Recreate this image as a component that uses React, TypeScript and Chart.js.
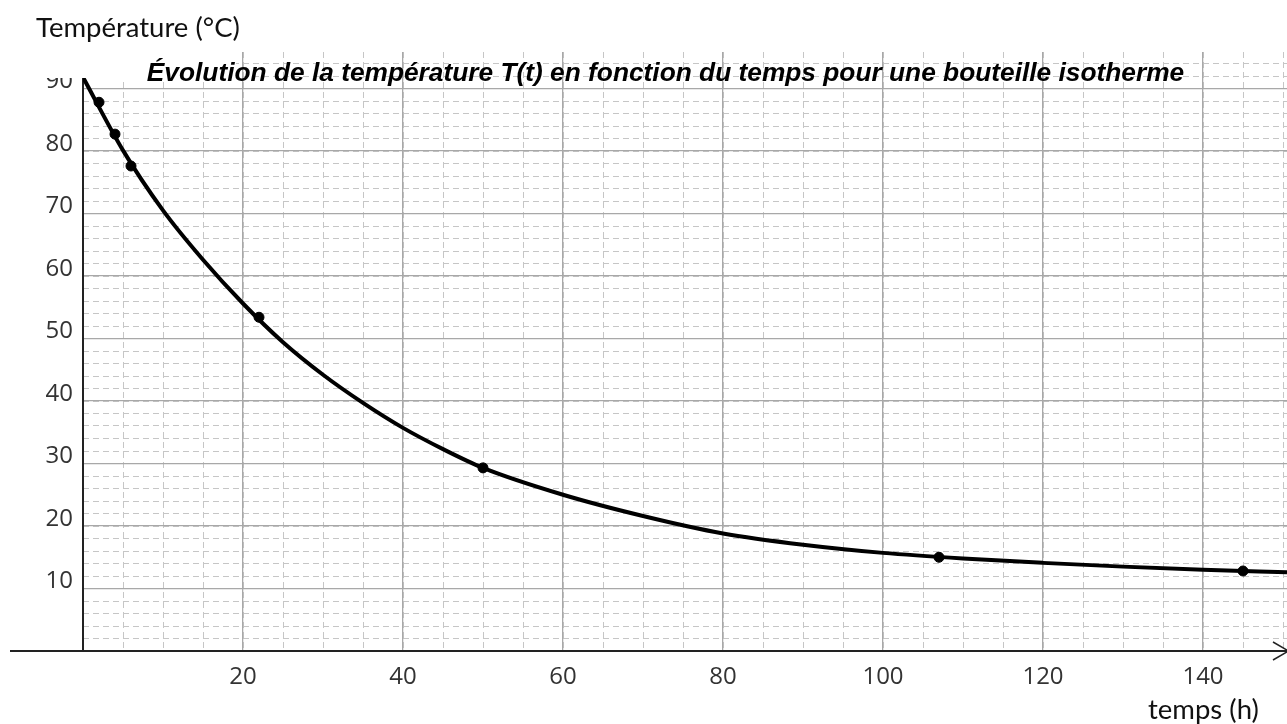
import React, { useEffect, useRef } from "react";
import { Chart, registerables } from "chart.js";

Chart.register(...registerables);

// ---- data ----
const curveTimes = [0, 5, 10, 15, 20, 25, 30, 35, 40, 45, 50, 60, 70, 80, 90, 100, 110, 120, 130, 140, 150.5];
const curveTemps = [91.8, 80.1, 70.5, 62.6, 55.6, 49.4, 44.2, 39.7, 35.7, 32.3, 29.3, 25.0, 21.6, 18.8, 17.0, 15.7, 14.8, 14.1, 13.5, 13.0, 12.6];

const measureTimes = [2, 4, 6, 22, 50, 107, 145];
const measureTemps = [87.8, 82.7, 77.6, 53.4, 29.3, 15.0, 12.8];

const xMin = 0;
const xMax = 150.5;
const yMin = 0;
const yMax = 95.84;
const xMajorStep = 20;
const xMinorStep = 5;
const yMajorStep = 10;
const yMinorStep = 2;

const TITLE = "Évolution de la température T(t) en fonction du temps pour une bouteille isotherme";
const Y_TITLE = "Température (°C)";
const X_TITLE = "temps (h)";

const W = 1287;
const H = 724;

const zeroPad = (s: any) => {
  s.paddingTop = 0;
  s.paddingBottom = 0;
  s.paddingLeft = 0;
  s.paddingRight = 0;
};

const overlay = {
  id: "overlay",
  afterDraw(chart: any) {
    const ctx = chart.ctx as CanvasRenderingContext2D;
    const ca = chart.chartArea;
    ctx.save();
    // white area in the top-left corner (covers grid)
    ctx.fillStyle = "#ffffff";
    ctx.fillRect(0, 0, 236, 78);
    // x axis extends left of the y axis
    ctx.strokeStyle = "#222222";
    ctx.lineWidth = 2;
    ctx.beginPath();
    ctx.moveTo(10, ca.bottom);
    ctx.lineTo(ca.left, ca.bottom);
    ctx.stroke();
    // arrow head
    ctx.lineWidth = 1.5;
    ctx.beginPath();
    ctx.moveTo(ca.right - 14, ca.bottom - 9);
    ctx.lineTo(ca.right, ca.bottom - 1);
    ctx.moveTo(ca.right, ca.bottom + 1);
    ctx.lineTo(ca.right - 14, ca.bottom + 9);
    ctx.stroke();
    // title
    ctx.fillStyle = "#000000";
    ctx.font = 'italic bold 26.3px "Liberation Sans", Arial, sans-serif';
    ctx.textAlign = "center";
    ctx.textBaseline = "alphabetic";
    ctx.fillText(TITLE, 665.5, 81);
    // axis titles
    ctx.font = '27.5px Lato, "Open Sans", sans-serif';
    ctx.fillStyle = "#111111";
    ctx.textAlign = "left";
    ctx.fillText(Y_TITLE, 36, 37);
    ctx.fillText(X_TITLE, 1148, 719);
    ctx.restore();
  },
};

export default function App() {
  const ref = useRef<HTMLCanvasElement>(null);

  useEffect(() => {
    const curve = curveTimes.map((t, i) => ({ x: t, y: curveTemps[i] }));
    const pts = measureTimes.map((t, i) => ({ x: t, y: measureTemps[i] }));
    const tickFont = { family: '"Open Sans", sans-serif', size: 24 };

    const chart = new Chart(ref.current as HTMLCanvasElement, {
      type: "line",
      data: {
        datasets: [
          {
            label: "T(t)",
            data: curve,
            borderColor: "#000000",
            borderWidth: 4,
            pointRadius: 0,
            cubicInterpolationMode: "monotone",
            fill: false,
            xAxisID: "x",
            yAxisID: "y",
          },
          {
            label: "mesures",
            data: pts,
            showLine: false,
            pointRadius: 5,
            pointBackgroundColor: "#000000",
            pointBorderColor: "#000000",
            xAxisID: "x",
            yAxisID: "y",
          },
        ],
      },
      plugins: [overlay],
      options: {
        responsive: false,
        animation: false,
        events: [],
        layout: { autoPadding: false, padding: { top: 52, left: 0, right: 0, bottom: 0 } },
        plugins: {
          legend: { display: false },
          title: { display: false },
          tooltip: { enabled: false },
        },
        scales: {
          x: {
            type: "linear",
            position: "bottom",
            min: xMin,
            max: xMax,
            grid: { color: "#a8a8a8", lineWidth: 1.3, drawTicks: false },
            border: { display: true, color: "#222222", width: 2 },
            ticks: {
              stepSize: xMajorStep,
              includeBounds: false,
              autoSkip: false,
              maxRotation: 0,
              padding: 12,
              color: "#333333",
              font: tickFont,
              callback: (v: any) => (v === 0 ? "" : String(v)),
            },
            afterFit: (s: any) => {
              s.height = H - 651;
              zeroPad(s);
            },
          },
          xm: {
            type: "linear",
            position: "bottom",
            min: xMin,
            max: xMax,
            grid: { color: "#c6c6c6", lineWidth: 1, drawTicks: false, z: -2 },
            border: { display: false, dash: [6, 4] },
            ticks: { stepSize: xMinorStep, includeBounds: false, autoSkip: false, display: false },
            afterFit: (s: any) => {
              s.height = 0;
              zeroPad(s);
            },
          },
          y: {
            type: "linear",
            position: "left",
            min: yMin,
            max: yMax,
            grid: { color: "#a8a8a8", lineWidth: 1.3, drawTicks: false },
            border: { display: true, color: "#222222", width: 2 },
            ticks: {
              stepSize: yMajorStep,
              includeBounds: false,
              autoSkip: false,
              padding: 10,
              labelOffset: -7,
              color: "#333333",
              font: tickFont,
              callback: (v: any) => (v === 0 ? "" : String(v)),
            },
            afterFit: (s: any) => {
              s.width = 83;
              zeroPad(s);
            },
          },
          ym: {
            type: "linear",
            position: "left",
            min: yMin,
            max: yMax,
            grid: { color: "#c6c6c6", lineWidth: 1, drawTicks: false, z: -2 },
            border: { display: false, dash: [6, 4] },
            ticks: { stepSize: yMinorStep, includeBounds: false, autoSkip: false, display: false },
            afterFit: (s: any) => {
              s.width = 0;
              zeroPad(s);
            },
          },
        },
      } as any,
    });
    return () => chart.destroy();
  }, []);

  return (
    <div style={{ position: "fixed", left: 0, top: 0, width: W, height: H, background: "#ffffff" }}>
      <canvas ref={ref} width={W} height={H} style={{ display: "block", width: W, height: H }} />
    </div>
  );
}
